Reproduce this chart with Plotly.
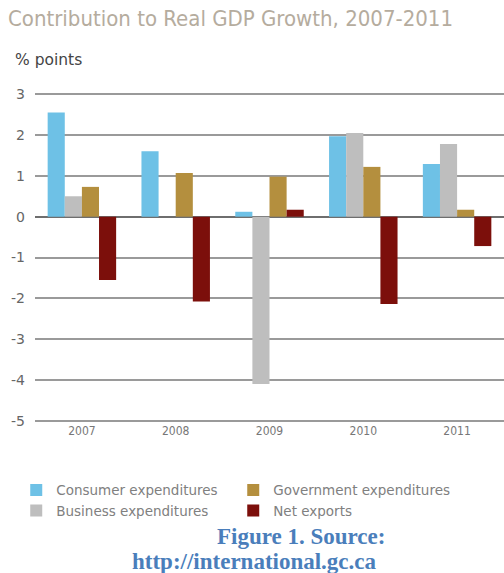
import plotly.graph_objects as go

years = ["2007", "2008", "2009", "2010", "2011"]
consumer = [2.55, 1.6, 0.12, 1.97, 1.29]
business = [0.5, 0.0, -4.1, 2.05, 1.78]
government = [0.73, 1.07, 0.98, 1.22, 0.17]
net_exports = [-1.55, -2.08, 0.17, -2.14, -0.72]
yticks = [3, 2, 1, 0, -1, -2, -3, -4, -5]
ytick_labels = ["3", "2", "1", "0", "-1", "-2", "-3", "-4", "-5"]

series = [
    ("Consumer expenditures", consumer, "#6EC1E6", 1),
    ("Business expenditures", business, "#BEBEBE", 3),
    ("Government expenditures", government, "#B48F3E", 2),
    ("Net exports", net_exports, "#7C0F0B", 4),
]

fig = go.Figure()
for name, vals, color, rank in series:
    fig.add_trace(go.Bar(x=years, y=vals, name=name, marker_color=color,
                         marker_line_width=0, legendrank=rank))

fig.update_layout(
    width=504, height=573,
    paper_bgcolor="white", plot_bgcolor="white",
    margin=dict(l=35, r=0, t=93, b=151, autoexpand=False),
    barmode="group", bargap=0.27, bargroupgap=0,
    font=dict(family="DejaVu Sans", color="#666666"),
    showlegend=True,
    legend=dict(orientation="h", x=-0.04, xanchor="left", y=-0.16, yanchor="top",
                entrywidth=172, entrywidthmode="pixels", traceorder="normal",
                font=dict(family="DejaVu Sans", size=13.5, color="#808080"),
                itemwidth=30),
    xaxis=dict(showgrid=False, showline=False, ticks="",
               tickfont=dict(family="DejaVu Sans Condensed", size=12, color="#777777")),
    yaxis=dict(range=[-5.03, 3.03], tickvals=yticks, ticktext=ytick_labels,
               showgrid=True, gridcolor="#9A9A9A", gridwidth=1.5, zeroline=True,
               zerolinecolor="#6E6E6E", zerolinewidth=1.5,
               tickfont=dict(family="DejaVu Sans", size=14, color="#666666"),
               ticklabelstandoff=9),
    annotations=[
        dict(text="Contribution to Real GDP Growth, 2007-2011", x=0, xanchor="left",
             xref="paper", yref="paper", xshift=-29, y=1, yshift=75, yanchor="middle",
             showarrow=False,
             font=dict(family="DejaVu Sans Condensed", size=22, color="#B5AC9E")),
        dict(text="% points", x=0, xanchor="left", xref="paper", yref="paper",
             xshift=-22, y=1, yshift=33, yanchor="middle", showarrow=False,
             font=dict(family="DejaVu Sans", size=15.5, color="#444444")),
        dict(text="<b>Figure 1. Source:</b>", x=0.567, xanchor="center", xref="paper",
             yref="paper", y=0, yshift=-114, yanchor="middle", showarrow=False,
             font=dict(family="Liberation Serif", size=23, color="#4A7EBB")),
        dict(text="<b>http://international.gc.ca</b>", x=0.468, xanchor="center",
             xref="paper", yref="paper", y=0, yshift=-139, yanchor="middle",
             showarrow=False,
             font=dict(family="Liberation Serif", size=23, color="#4A7EBB")),
    ],
)

fig.write_html("out.html", config={"displayModeBar": False},
               post_script="document.body.style.margin='0';document.body.style.overflow='hidden';")
